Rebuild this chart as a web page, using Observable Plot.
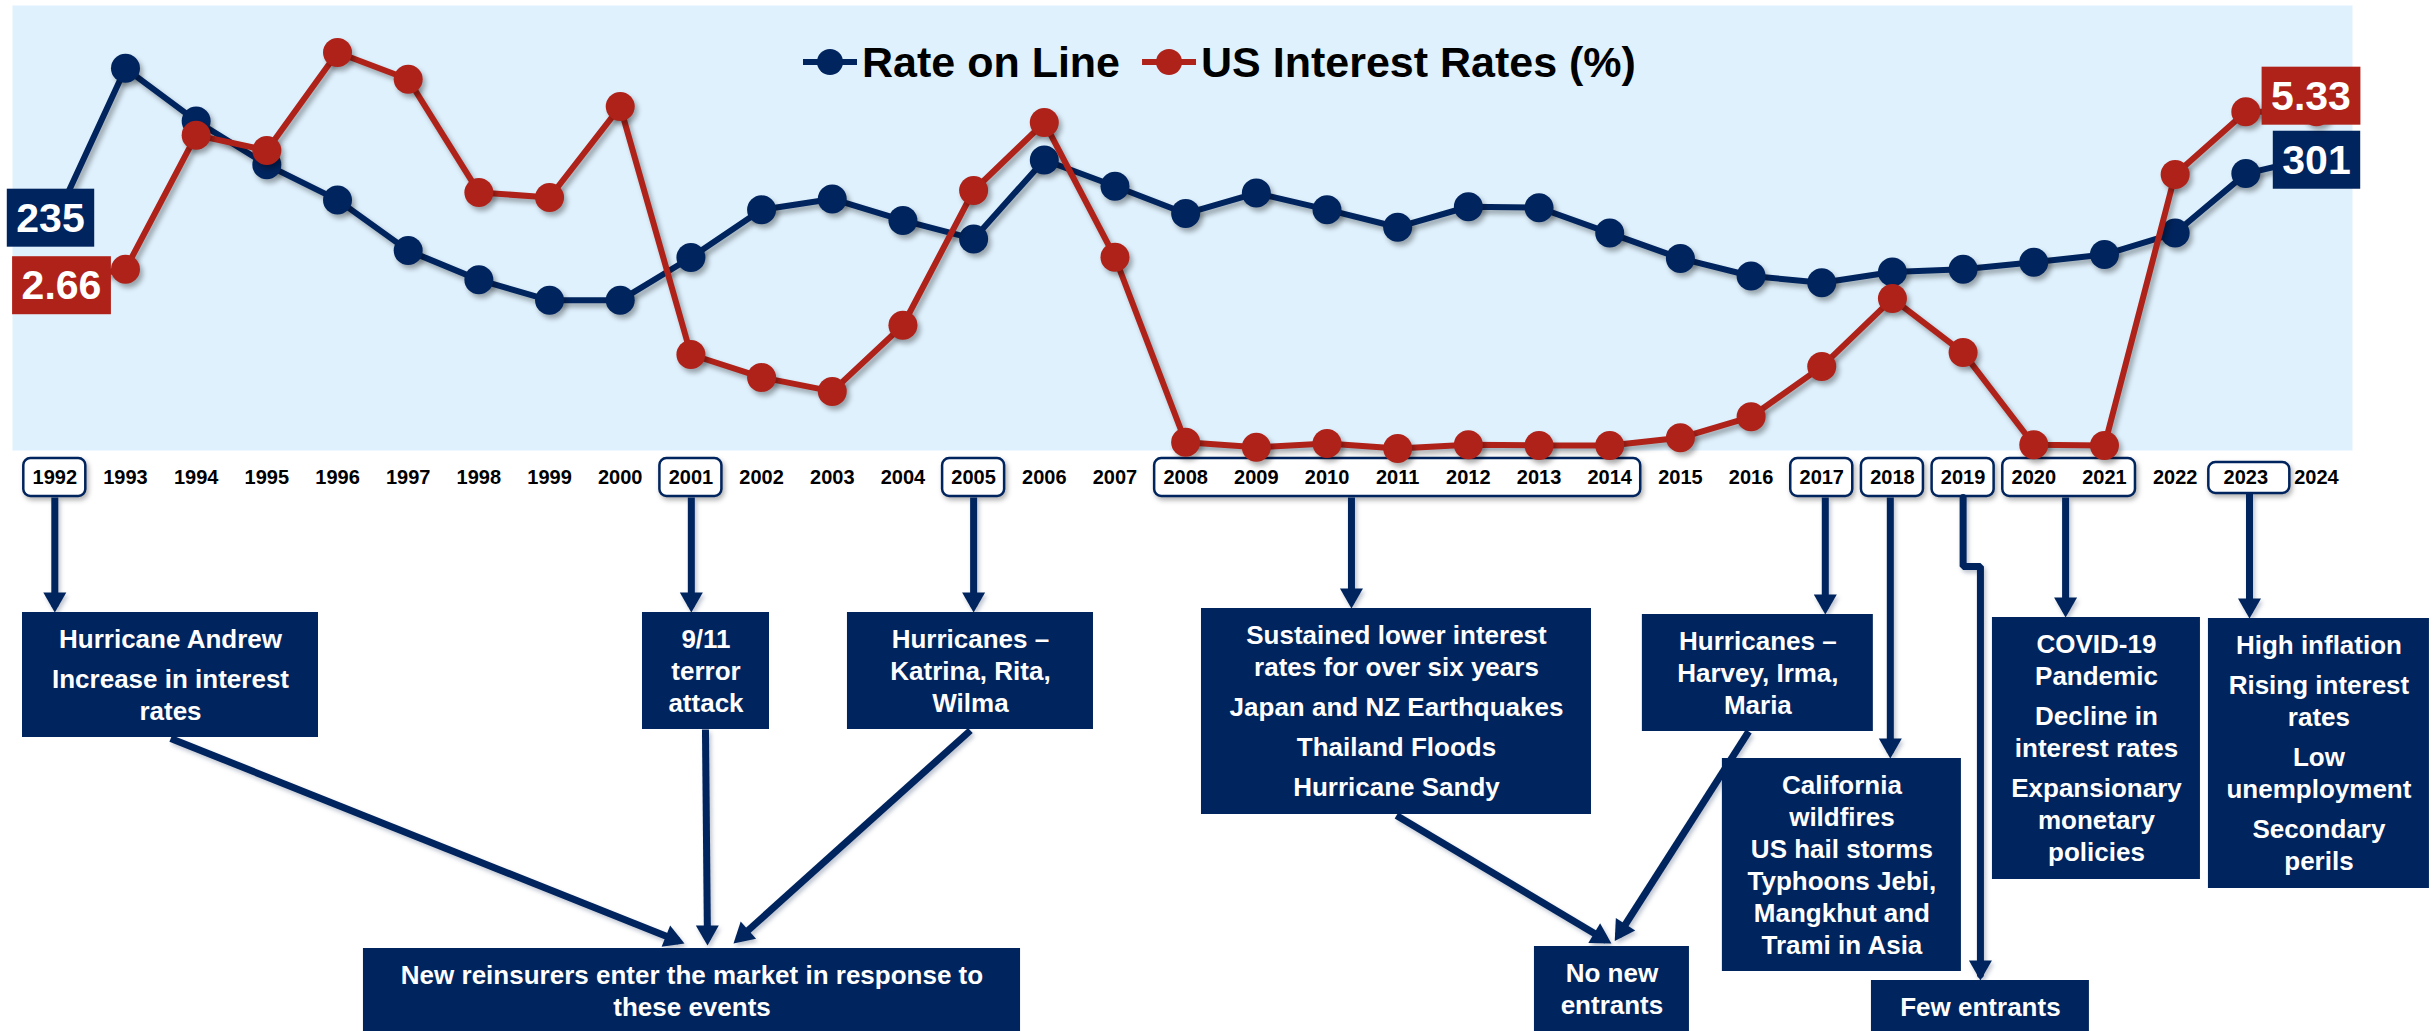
<!DOCTYPE html>
<html>
<head>
<meta charset="utf-8">
<script src="https://cdn.jsdelivr.net/npm/d3@7"></script>
<script src="https://cdn.jsdelivr.net/npm/@observablehq/plot@0.6"></script>
<style>
html, body { margin: 0; padding: 0; background: #ffffff; }
#wrap { position: relative; width: 2435px; height: 1031px; overflow: hidden; }
#wrap > svg { position: absolute; left: 0; top: 0; }
g[aria-description="bg-shadow"] { filter: drop-shadow(4px 5px 4px rgba(0,0,0,0.38)); }
g[aria-description="shadow"] { filter: drop-shadow(3px 4px 2.5px rgba(0,0,0,0.32)); }
g[aria-description="soft-shadow"] { filter: drop-shadow(2px 3px 2.5px rgba(0,0,0,0.30)); }
g[aria-description="arrow"] { filter: drop-shadow(2px 3px 2px rgba(40,60,100,0.30)); }
</style>
</head>
<body>
<div id="wrap"></div>
<script>
// ---------------- data ----------------
const years = [1992, 1993, 1994, 1995, 1996, 1997, 1998, 1999, 2000, 2001, 2002,
  2003, 2004, 2005, 2006, 2007, 2008, 2009, 2010, 2011, 2012, 2013, 2014, 2015,
  2016, 2017, 2018, 2019, 2020, 2021, 2022, 2023, 2024];
const rateOnLine = [235, 392, 338, 293, 257, 205, 175, 154, 154, 198, 247,
  258, 236, 217, 298, 271, 243, 264, 247, 229, 250, 249, 223, 197,
  179, 172, 183, 186, 193, 201, 223, 284, 301];
const interestRates = [2.66, 2.85, 4.96, 4.72, 6.26, 5.84, 4.06, 3.98, 5.41, 1.51, 1.15,
  0.93, 1.97, 4.09, 5.16, 3.04, 0.13, 0.05, 0.11, 0.03, 0.09, 0.08, 0.08, 0.20,
  0.53, 1.32, 2.39, 1.54, 0.09, 0.08, 4.34, 5.33, 5.33];
const seriesNames = ["Rate on Line", "US Interest Rates (%)"];

const highlightStart = [1992, 2001, 2005, 2008, 2017, 2018, 2019, 2020];
const highlightEnd   = [1992, 2001, 2005, 2014, 2017, 2018, 2019, 2021];
const highlightLast  = [2023];

const eventNotes = [
  [["Hurricane Andrew"], ["Increase in interest", "rates"]],
  [["9/11", "terror", "attack"]],
  [["Hurricanes –", "Katrina, Rita,", "Wilma"]],
  [["Sustained lower interest", "rates for over six years"], ["Japan and NZ Earthquakes"], ["Thailand Floods"], ["Hurricane Sandy"]],
  [["Hurricanes –", "Harvey, Irma,", "Maria"]],
  [["California", "wildfires", "US hail storms", "Typhoons Jebi,", "Mangkhut and", "Trami in Asia"]],
  [["COVID-19", "Pandemic"], ["Decline in", "interest rates"], ["Expansionary", "monetary", "policies"]],
  [["High inflation"], ["Rising interest", "rates"], ["Low", "unemployment"], ["Secondary", "perils"]]
];
const outcomeNotes = [
  [["New reinsurers enter the market in response to", "these events"]],
  [["No new", "entrants"]],
  [["Few entrants"]]
];

// ---------------- layout (annotation geometry: x in years, y in px) ----------------
const noteBoxes = [
  {x1: 1991.543, x2: 1995.731, y1: 612, y2: 737},
  {x1: 2000.315, x2: 2002.112, y1: 612, y2: 729},
  {x1: 2003.215, x2: 2006.696, y1: 612, y2: 729},
  {x1: 2008.224, x2: 2013.742, y1: 608, y2: 814},
  {x1: 2014.462, x2: 2017.730, y1: 614, y2: 731},
  {x1: 2015.594, x2: 2018.976, y1: 758, y2: 971},
  {x1: 2019.415, x2: 2022.358, y1: 617, y2: 879},
  {x1: 2022.471, x2: 2025.598, y1: 618, y2: 888},
  {x1: 1996.367, x2: 2005.664, y1: 948, y2: 1045},
  {x1: 2012.935, x2: 2015.128, y1: 946, y2: 1045},
  {x1: 2017.703, x2: 2020.787, y1: 980, y2: 1045}
];
const arrowLinks = [
  {x1: 1992, y1: 497, x2: 1992, y2: 606},
  {x1: 2001.006, y1: 497, x2: 2001.006, y2: 606},
  {x1: 2005, y1: 497, x2: 2005, y2: 606},
  {x1: 2010.346, y1: 497, x2: 2010.346, y2: 602},
  {x1: 2017.05, y1: 497, x2: 2017.05, y2: 608},
  {x1: 2017.97, y1: 497, x2: 2017.97, y2: 752},
  {x1: 2020.45, y1: 497, x2: 2020.45, y2: 611},
  {x1: 2023.052, y1: 493, x2: 2023.052, y2: 612},
  {x1: 1993.64, y1: 738, x2: 2000.83, y2: 940.8},
  {x1: 2001.206, y1: 729, x2: 2001.234, y2: 939},
  {x1: 2004.954, y1: 730, x2: 2001.666, y2: 939},
  {x1: 2010.983, y1: 815, x2: 2013.951, y2: 939.9},
  {x1: 2015.967, y1: 731, x2: 2014.117, y2: 935.5}
];
const elbowPath = [
  {x: 2019, y: 497}, {x: 2019, y: 566}, {x: 2019.245, y: 566}, {x: 2019.245, y: 974}
];

// ---------------- styles ----------------
const FONT = '"Liberation Sans", Arial, Helvetica, sans-serif';
const NAVY = "#00245E";
const RED = "#AF2219";
const BG = "#DFF1FD";
const W = 2435, H = 1031;
const X = {domain: [1992, 2024], range: [54.3, 2316]};
const MARGINS = {marginLeft: 12, marginRight: 83, marginTop: 5, marginBottom: 581};

// ---------------- derived tables ----------------
const rol = years.map((year, i) => ({year, value: rateOnLine[i]}));
const rates = years.map((year, i) => ({year, value: interestRates[i]}));
const spans = highlightStart.map((s, i) => ({start: s, end: highlightEnd[i]}));
const lastSpans = highlightLast.map(s => ({start: s, end: s}));
const allNotes = [...eventNotes, ...outcomeNotes];
const boxes = allNotes.map((n, i) => ({...noteBoxes[i]}));
const noteLines = [];
allNotes.forEach((paras, i) => {
  const b = noteBoxes[i];
  let y = b.y1 + 27;
  paras.forEach((para, p) => {
    if (p > 0) y += 40;
    para.forEach((line, l) => {
      if (l > 0) y += 32;
      noteLines.push({x: (b.x1 + b.x2) / 2, y, text: line});
    });
  });
});

const wrap = document.getElementById("wrap");

// ---------------- layer 1: background + annotations ----------------
const annot = Plot.plot({
  width: W, height: H, ...MARGINS,
  x: {...X, axis: null},
  y: {domain: [0, H], range: [0, H], axis: null},
  style: {background: "transparent", overflow: "visible", fontFamily: FONT},
  marks: [
    Plot.frame({fill: BG, stroke: "none", ariaDescription: "bg-shadow"}),
    Plot.rect(spans, {x1: "start", x2: "end", y1: () => 458, y2: () => 496,
      insetLeft: -31, insetRight: -31, fill: "white", stroke: NAVY, strokeWidth: 2.5, rx: 7,
      ariaDescription: "soft-shadow"}),
    Plot.rect(lastSpans, {x1: "start", x2: "end", y1: () => 462, y2: () => 493,
      insetLeft: -37, insetRight: -44, fill: "white", stroke: NAVY, strokeWidth: 2.5, rx: 7,
      ariaDescription: "soft-shadow"}),
    Plot.link(arrowLinks, {x1: "x1", y1: "y1", x2: "x2", y2: "y2", stroke: NAVY, strokeWidth: 7,
      ariaDescription: "arrow"}),
    Plot.line(elbowPath, {x: "x", y: "y", stroke: NAVY, strokeWidth: 7, strokeLinejoin: "miter",
      ariaDescription: "arrow"}),
    Plot.rect(boxes, {x1: "x1", x2: "x2", y1: "y1", y2: "y2", fill: NAVY}),
    Plot.text(noteLines, {x: "x", y: "y", text: "text", fill: "white", fontSize: 26,
      fontWeight: "bold", fontFamily: FONT})
  ]
});
wrap.appendChild(annot);

// ---------------- layer 2: Rate on Line ----------------
const blue = Plot.plot({
  width: W, height: H, ...MARGINS,
  x: {...X, ticks: years, tickFormat: d => String(d), tickSize: 0, tickPadding: 19, label: null},
  y: {domain: [0, 456.4], range: [450, 5], axis: null},
  style: {background: "transparent", overflow: "visible", fontFamily: FONT, fontSize: "20px",
    fontWeight: "bold", color: "#000000"},
  marks: [
    Plot.line(rol, {x: "year", y: "value", stroke: NAVY, strokeWidth: 6, ariaDescription: "shadow"}),
    Plot.dot(rol, {x: "year", y: "value", r: 14.5, fill: NAVY, stroke: "none", ariaDescription: "shadow"}),
    Plot.text([rol[0]], {x: "year", y: "value", text: d => String(d.value), dx: -4.3, dy: -2.8,
      fill: "white", fontSize: 41, fontWeight: "bold", ariaDescription: "label-navy"}),
    Plot.text([rol[rol.length - 1]], {x: "year", y: "value", text: d => String(d.value), dx: 0, dy: 3.6,
      fill: "white", fontSize: 41, fontWeight: "bold", ariaDescription: "label-navy"})
  ]
});
wrap.appendChild(blue);

// ---------------- layer 3: US interest rates ----------------
const red = Plot.plot({
  width: W, height: H, ...MARGINS,
  x: {...X, axis: null},
  y: {domain: [0, 7], range: [450, 5], axis: null},
  style: {background: "transparent", overflow: "visible", fontFamily: FONT},
  marks: [
    Plot.line(rates, {x: "year", y: "value", stroke: RED, strokeWidth: 6, ariaDescription: "shadow"}),
    Plot.dot(rates, {x: "year", y: "value", r: 14.5, fill: RED, stroke: "none", ariaDescription: "shadow"}),
    Plot.text([rates[0]], {x: "year", y: "value", text: d => d.value.toFixed(2), dx: 6.7, dy: 4.7,
      fill: "white", fontSize: 41, fontWeight: "bold", ariaDescription: "label-red"}),
    Plot.text([rates[rates.length - 1]], {x: "year", y: "value", text: d => d.value.toFixed(2), dx: -5.5, dy: -15.1,
      fill: "white", fontSize: 41, fontWeight: "bold", ariaDescription: "label-red"})
  ]
});
wrap.appendChild(red);

// ---------------- legend (top, inside chart area) ----------------
const leg = d3.select(wrap).append("svg")
  .attr("width", W).attr("height", H)
  .style("pointer-events", "none");
const legColors = [NAVY, RED];
let lx = 803;
seriesNames.forEach((name, i) => {
  const g = leg.append("g");
  g.append("line").attr("x1", lx).attr("x2", lx + 54).attr("y1", 62).attr("y2", 62)
    .attr("stroke", legColors[i]).attr("stroke-width", 6);
  g.append("circle").attr("cx", lx + 27).attr("cy", 62).attr("r", 13).attr("fill", legColors[i]);
  const t = g.append("text").attr("x", lx + 59).attr("y", 77)
    .attr("font-family", FONT).attr("font-size", 43).attr("font-weight", "bold")
    .attr("fill", "#000").text(name);
  lx = lx + 59 + t.node().getComputedTextLength() + 22;
});

// ---------------- post-processing: label boxes and arrowheads ----------------
const SVGNS = "http://www.w3.org/2000/svg";
[blue, red].forEach(svg => {
  svg.querySelectorAll('g[aria-description^="label-"]').forEach(g => {
    const color = g.getAttribute("aria-description") === "label-red" ? RED : NAVY;
    g.querySelectorAll("text").forEach(t => {
      const bb = t.getBBox();
      const cy = bb.y + bb.height / 2;
      const rect = document.createElementNS(SVGNS, "rect");
      rect.setAttribute("x", bb.x - 9.5);
      rect.setAttribute("y", cy - 29);
      rect.setAttribute("width", bb.width + 19);
      rect.setAttribute("height", 58);
      rect.setAttribute("fill", color);
      const tr = t.getAttribute("transform");
      if (tr) rect.setAttribute("transform", tr);
      t.parentNode.insertBefore(rect, t);
    });
  });
});
// filled triangular arrowheads
const defs = document.createElementNS(SVGNS, "defs");
const marker = document.createElementNS(SVGNS, "marker");
marker.setAttribute("id", "ahead");
marker.setAttribute("viewBox", "-15 -12 22 24");
marker.setAttribute("markerUnits", "userSpaceOnUse");
marker.setAttribute("markerWidth", 22);
marker.setAttribute("markerHeight", 24);
marker.setAttribute("refX", 0);
marker.setAttribute("refY", 0);
marker.setAttribute("orient", "auto");
const mpath = document.createElementNS(SVGNS, "path");
mpath.setAttribute("d", "M-14,-11.5L6,0L-14,11.5Z");
mpath.setAttribute("fill", NAVY);
marker.appendChild(mpath);
defs.appendChild(marker);
annot.insertBefore(defs, annot.firstChild);
annot.querySelectorAll('g[aria-description="arrow"] path, g[aria-description="arrow"] line').forEach(p => {
  p.setAttribute("marker-end", "url(#ahead)");
});
</script>
</body>
</html>
